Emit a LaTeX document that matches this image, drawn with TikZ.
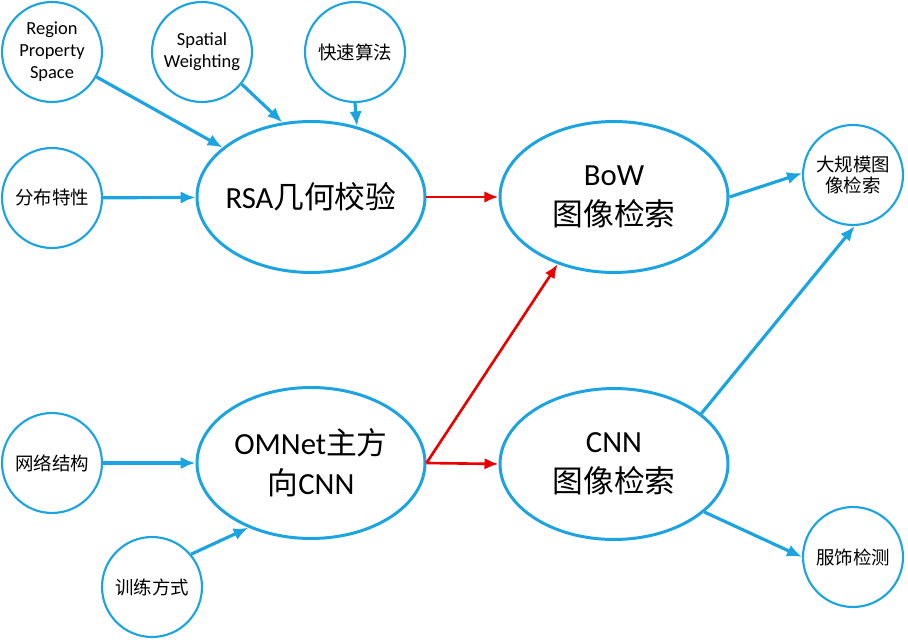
\documentclass[tikz,border=0pt]{standalone}
\usepackage{fontspec}
\setmainfont{Carlito}
\newfontfamily\cjk{Noto Sans CJK SC}
\usepackage{tikz}
\usetikzlibrary{shapes,arrows.meta,positioning}
\definecolor{lineblue}{RGB}{27,163,226}
\definecolor{linered}{RGB}{235,0,0}

\begin{document}
\begin{tikzpicture}[x=0.02cm,y=-0.02cm,
  small/.style={circle,draw=lineblue,line width=1.2pt,minimum size=2cm,inner sep=0pt,align=center,font=\fontsize{10.5}{12.5}\selectfont},
  big/.style={ellipse,draw=lineblue,line width=1.7pt,minimum width=4.56cm,minimum height=3.02cm,inner xsep=-12pt,inner ysep=0pt,align=center,font=\fontsize{17.5}{23}\selectfont},
  bluearrow/.style={draw=lineblue,line width=1.8pt,-{Latex[length=8.5pt,width=7pt]}},
  redarrow/.style={draw=linered,line width=1.5pt,-{Latex[length=8pt,width=6.5pt]}}]
\useasboundingbox (0,0) rectangle (908,644);
\node[small] (rps) at (52,52) {Region\\Property\\Space};
\node[small] (sw) at (202,52) {Spatial\\Weighting};
\node[small] (ks) at (355,52) {\cjk 快速算法};
\node[small] (fb) at (52,198) {\cjk 分布特性};
\node[big] (rsa) at (311,197) {RSA{\cjk 几何校验}};
\node[big] (bow) at (614,197) {BoW\\{\cjk 图像检索}};
\node[small] (dg) at (853,175) {{\cjk 大规模图}\\{\cjk 像检索}};
\node[small] (wl) at (52,463) {\cjk 网络结构};
\node[big] (om) at (311,463) {OMNet{\cjk 主方}\\{\cjk 向}CNN};
\node[big] (cnn) at (614,464) {CNN\\{\cjk 图像检索}};
\node[small] (xl) at (152,587) {\cjk 训练方式};
\node[small] (fs) at (853,557) {\cjk 服饰检测};
% inputs
\foreach \a/\b in {rps/rsa,fb/rsa,wl/om}
  \draw[bluearrow] (\a) -- (\b);
\draw[bluearrow] (sw.-39) -- (rsa.111);
\draw[bluearrow] (ks.south) -- (rsa.57);
\draw[bluearrow] (xl.40) -- (om.-134);
% main flow
\draw[redarrow] (rsa.east) -- (bow.west);
\draw[redarrow] (om.east) -- (bow.-130);
\draw[redarrow] (om.east) -- (cnn.west);
% outputs
\draw[bluearrow] (bow.east) -- (dg.178);
\draw[bluearrow] (cnn.30) -- (dg.-88);
\draw[bluearrow] (cnn.-28) -- (fs.west);
\end{tikzpicture}
\end{document}
